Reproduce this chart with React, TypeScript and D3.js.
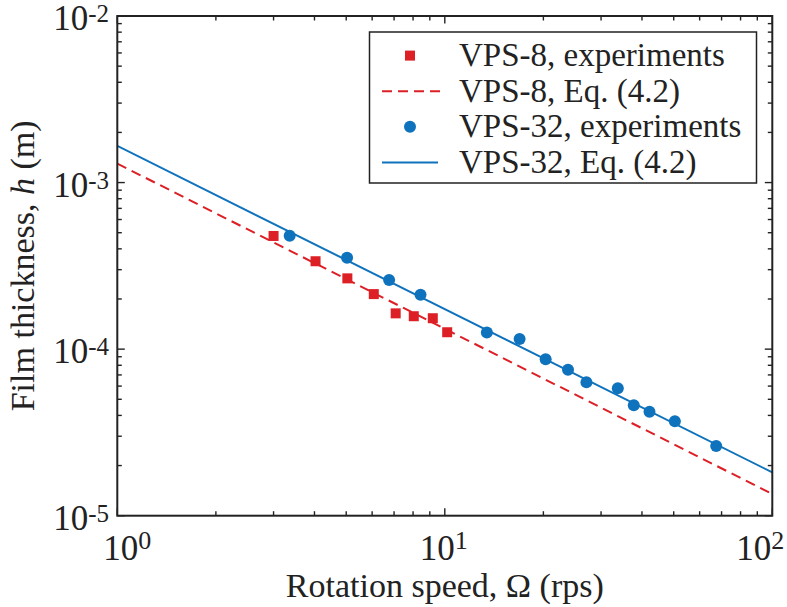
import React from "react";
import * as d3 from "d3";

// ---- data ----
const vps8Omega = [3.0, 4.03, 5.04, 6.07, 7.08, 8.04, 9.19, 10.17];
const vps8H = [4.78e-4, 3.37e-4, 2.66e-4, 2.14e-4, 1.64e-4, 1.576e-4, 1.533e-4, 1.263e-4];
const vps32Omega = [3.36, 5.03, 6.76, 8.43, 13.44, 16.92, 20.32, 23.78, 27.07, 33.75, 37.76, 42.17, 50.4, 67.4];
const vps32H = [4.8e-4, 3.54e-4, 2.6e-4, 2.12e-4, 1.26e-4, 1.15e-4, 8.7e-5, 7.53e-5, 6.33e-5, 5.83e-5, 4.61e-5, 4.21e-5, 3.69e-5, 2.62e-5];
const eqOmega = [1, 100];
const vps8EqH = [1.3e-3, 1.35e-5];
const vps32EqH = [1.66e-3, 1.82e-5];
const xTickExps = [0, 1, 2];
const yTickExps = [-5, -4, -3, -2];
const legendLabels = ["VPS-8, experiments", "VPS-8, Eq. (4.2)", "VPS-32, experiments", "VPS-32, Eq. (4.2)"];

const RED = "#dd1f26";
const BLUE = "#0f72bd";
const FONT = "'Liberation Serif', 'Times New Roman', serif";

export default function App() {
  const L = 117.3, R = 772.3, T = 16, B = 515.7;
  const x = d3.scaleLog().domain([1, 100]).range([L, R]);
  const y = d3.scaleLog().domain([1e-5, 1e-2]).range([B, T]);

  const line = d3.line<[number, number]>().x((d) => x(d[0])).y((d) => y(d[1]));
  const pts = (xs: number[], ys: number[]) => xs.map((v, i) => [v, ys[i]] as [number, number]);

  // ticks
  const xMinor: number[] = [];
  for (let e = 0; e < 2; e++) for (let k = 2; k <= 9; k++) xMinor.push(k * Math.pow(10, e));
  const yMinor: number[] = [];
  for (let e = -5; e < -2; e++) for (let k = 2; k <= 9; k++) yMinor.push(k * Math.pow(10, e));

  const tickStroke = { stroke: "#222", strokeWidth: 1.4 };
  const major = 7.5, minor = 4.5;
  const xLabelDx = [10, -1, -12];

  const legX = 369.5, legY = 32, legW = 387, legH = 151;
  const rowY = (i: number) => 55.6 + i * 35.6;

  return (
    <svg width={787} height={607} style={{ position: "absolute", left: 0, top: 0, background: "#fff" }} fontFamily={FONT}>
      <defs>
        <clipPath id="plot">
          <rect x={L} y={T} width={R - L} height={B - T} />
        </clipPath>
      </defs>
      <rect x={0} y={0} width={787} height={607} fill="#fff" />

      {/* lines */}
      <g clipPath="url(#plot)">
        <path d={line(pts(eqOmega, vps8EqH)) || ""} fill="none" stroke={RED} strokeWidth={2} strokeDasharray="10,6" />
        <path d={line(pts(eqOmega, vps32EqH)) || ""} fill="none" stroke={BLUE} strokeWidth={2} />
        {vps8Omega.map((o, i) => (
          <rect key={"s" + i} x={x(o) - 5} y={y(vps8H[i]) - 5} width={10} height={10} fill={RED} />
        ))}
        {vps32Omega.map((o, i) => (
          <circle key={"c" + i} cx={x(o)} cy={y(vps32H[i])} r={6} fill={BLUE} />
        ))}
      </g>

      {/* ticks */}
      <g>
        {xTickExps.map((e) => {
          const px = x(Math.pow(10, e));
          return (
            <g key={"xt" + e}>
              <line x1={px} x2={px} y1={B} y2={B - major} {...tickStroke} />
              <line x1={px} x2={px} y1={T} y2={T + major} {...tickStroke} />
            </g>
          );
        })}
        {xMinor.map((v, i) => (
          <g key={"xm" + i}>
            <line x1={x(v)} x2={x(v)} y1={B} y2={B - minor} {...tickStroke} />
            <line x1={x(v)} x2={x(v)} y1={T} y2={T + minor} {...tickStroke} />
          </g>
        ))}
        {yTickExps.map((e) => {
          const py = y(Math.pow(10, e));
          return (
            <g key={"yt" + e}>
              <line x1={L} x2={L + major} y1={py} y2={py} {...tickStroke} />
              <line x1={R} x2={R - major} y1={py} y2={py} {...tickStroke} />
            </g>
          );
        })}
        {yMinor.map((v, i) => (
          <g key={"ym" + i}>
            <line x1={L} x2={L + minor} y1={y(v)} y2={y(v)} {...tickStroke} />
            <line x1={R} x2={R - minor} y1={y(v)} y2={y(v)} {...tickStroke} />
          </g>
        ))}
      </g>

      {/* frame */}
      <rect x={L} y={T} width={R - L} height={B - T} fill="none" stroke="#222" strokeWidth={2} />

      {/* x tick labels */}
      {xTickExps.map((e, i) => (
        <text key={"xl" + e} x={x(Math.pow(10, e)) + xLabelDx[i]} y={560} textAnchor="middle" fontSize={35} fill="#222">
          10<tspan fontSize={26} dy={-11}>{e}</tspan>
        </text>
      ))}

      {/* y tick labels */}
      {yTickExps.map((e) => (
        <text key={"yl" + e} x={109} y={y(Math.pow(10, e)) + 14} textAnchor="end" fontSize={35} fill="#222">
          10<tspan fontSize={25} dy={-8}>{"-" + Math.abs(e)}</tspan>
        </text>
      ))}

      {/* axis labels */}
      <text x={(L + R) / 2} y={597} textAnchor="middle" fontSize={34} fill="#222">
        Rotation speed, Ω (rps)
      </text>
      <text transform={`translate(34, ${(T + B) / 2}) rotate(-90)`} textAnchor="middle" fontSize={34} fill="#222">
        Film thickness, <tspan fontStyle="italic">h</tspan> (m)
      </text>

      {/* legend */}
      <rect x={legX} y={legY} width={legW} height={legH} fill="#fff" stroke="#222" strokeWidth={1.5} />
      <rect x={410 - 5} y={rowY(0) - 5} width={10} height={10} fill={RED} />
      <line x1={382} x2={440} y1={rowY(1)} y2={rowY(1)} stroke={RED} strokeWidth={2} strokeDasharray="10,6" />
      <circle cx={410} cy={rowY(2)} r={6} fill={BLUE} />
      <line x1={382} x2={438} y1={rowY(3)} y2={rowY(3)} stroke={BLUE} strokeWidth={2} />
      {legendLabels.map((s, i) => (
        <text key={"lg" + i} x={459} y={rowY(i) + 10.5} fontSize={33} fill="#222">
          {s}
        </text>
      ))}
    </svg>
  );
}
